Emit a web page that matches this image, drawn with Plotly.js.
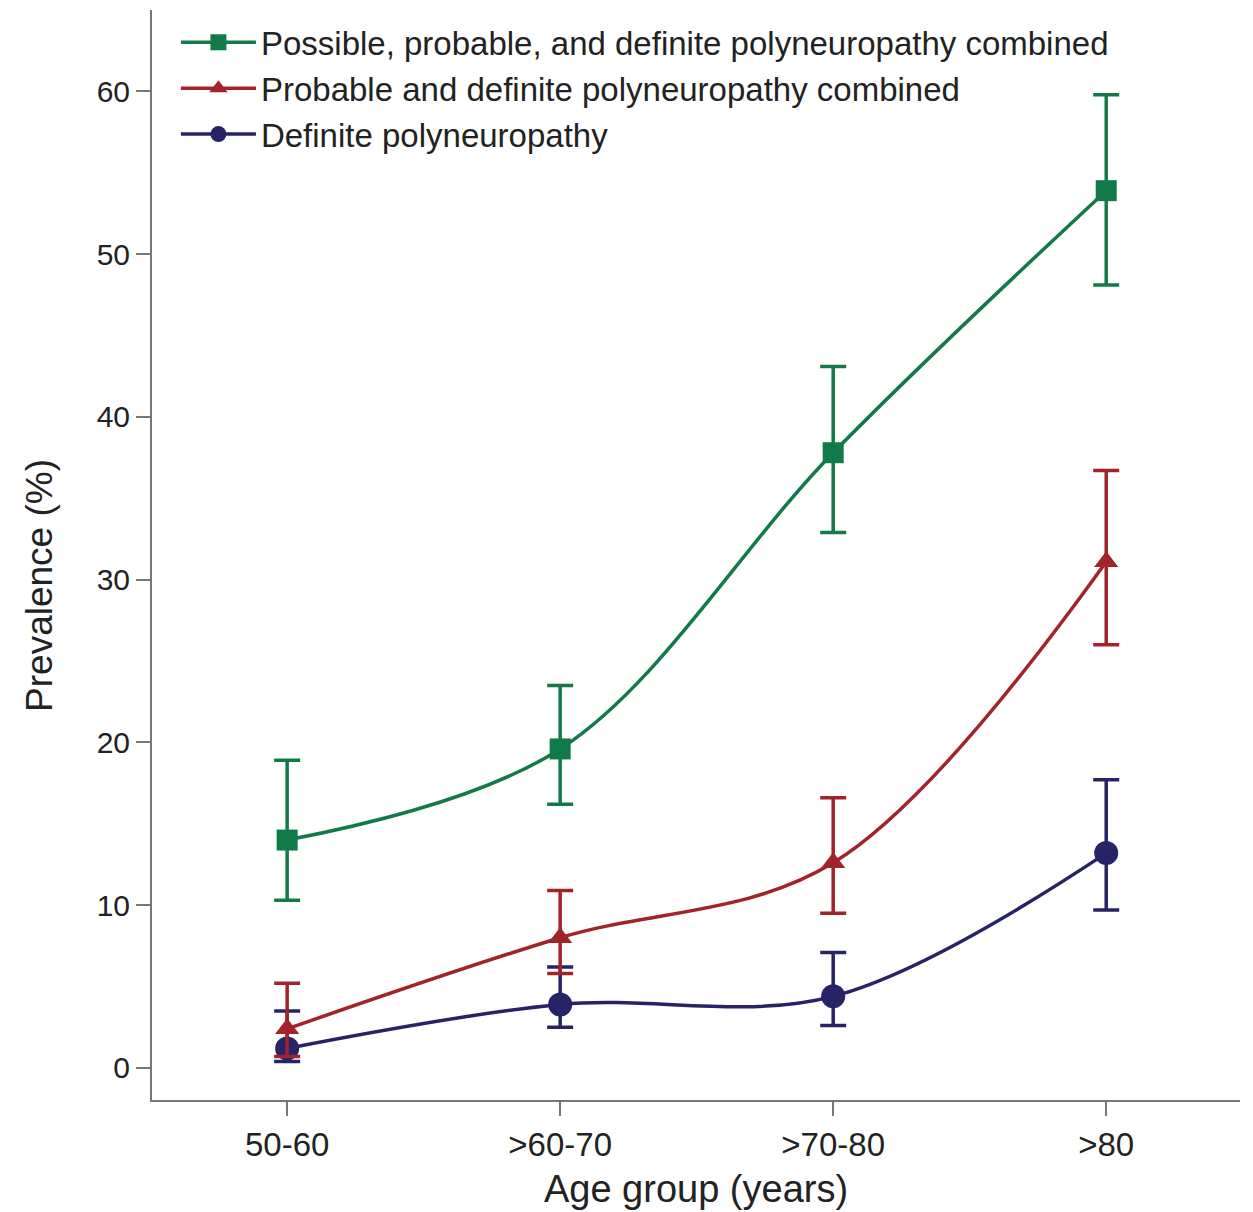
<!DOCTYPE html>
<html>
<head>
<meta charset="utf-8">
<script src="https://cdn.plot.ly/plotly-3.0.1.min.js"></script>
<style>html,body{margin:0;padding:0;background:#fff;}#chart{width:1253px;height:1212px;}</style>
</head>
<body>
<div id="chart"></div>
<script>
const ageGroups = ["50-60", ">60-70", ">70-80", ">80"];
const seriesNames = [
  "Possible, probable, and definite polyneuropathy combined",
  "Probable and definite polyneuropathy combined",
  "Definite polyneuropathy"
];
const possibleVals = [14.0, 19.6, 37.8, 53.9];
const possibleLow  = [10.3, 16.2, 32.9, 48.1];
const possibleHigh = [18.9, 23.5, 43.1, 59.8];
const probableVals = [2.4, 8.0, 12.6, 31.1];
const probableLow  = [0.7, 5.8, 9.5, 26.0];
const probableHigh = [5.2, 10.9, 16.6, 36.7];
const definiteVals = [1.2, 3.9, 4.4, 13.2];
const definiteLow  = [0.4, 2.5, 2.6, 9.7];
const definiteHigh = [3.5, 6.2, 7.1, 17.7];

const colors = ["#127a48", "#a3232a", "#262466"];
const symbols = ["square", "triangle-up", "circle"];
const msizes = [21, 21, 24];

function mk(i, vals, lo, hi) {
  return {
    type: "scatter", mode: "lines+markers", name: seriesNames[i],
    x: ageGroups, y: vals,
    line: {color: colors[i], width: 3.5, shape: "spline", smoothing: 1},
    marker: {color: colors[i], symbol: symbols[i], size: msizes[i]},
    error_y: {type: "data", symmetric: false,
      array: hi.map((h, k) => h - vals[k]),
      arrayminus: lo.map((l, k) => vals[k] - l),
      color: colors[i], thickness: 3.5, width: 13}
  };
}
const data = [
  mk(2, definiteVals, definiteLow, definiteHigh),
  mk(1, probableVals, probableLow, probableHigh),
  mk(0, possibleVals, possibleLow, possibleHigh)
];
const fam = "Liberation Sans, Arial, sans-serif";
const layout = {
  width: 1253, height: 1212,
  margin: {l: 152, r: 13, t: 10, b: 112},
  paper_bgcolor: "#fff", plot_bgcolor: "#fff",
  showlegend: true,
  legend: {x: 0.022, y: 0.996, xanchor: "left", yanchor: "top", traceorder: "reversed",
    font: {family: fam, size: 33, color: "#222"},
    itemwidth: 75, tracegroupgap: 0, bgcolor: "rgba(0,0,0,0)"},
  xaxis: {type: "category", range: [-0.495, 3.49], showgrid: false, zeroline: false,
    showline: true, linecolor: "#777", linewidth: 2,
    ticks: "outside", ticklen: 14, tickwidth: 2, tickcolor: "#777",
    tickfont: {family: fam, size: 33, color: "#222"},
    title: {text: "Age group (years)", standoff: 14,
      font: {family: fam, size: 38, color: "#222"}}},
  yaxis: {range: [-1.97, 65], showgrid: false, zeroline: false,
    showline: true, linecolor: "#777", linewidth: 2,
    tickvals: [0, 10, 20, 30, 40, 50, 60],
    ticks: "outside", ticklen: 14, tickwidth: 2, tickcolor: "#777",
    tickfont: {family: fam, size: 30, color: "#222"}},
  annotations: [{text: "Prevalence (%)", textangle: -90, xref: "paper", yref: "paper",
    x: -0.103, y: 0.4725, xanchor: "center", yanchor: "middle", showarrow: false,
    font: {family: fam, size: 37, color: "#222"}}]
};
Plotly.newPlot("chart", data, layout, {displayModeBar: false, staticPlot: true});
</script>
</body>
</html>
